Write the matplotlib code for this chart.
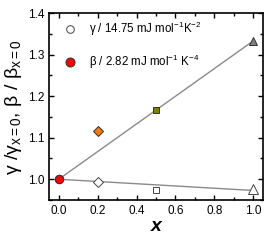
import matplotlib.pyplot as plt
import numpy as np
from matplotlib.ticker import MultipleLocator

plt.rcParams['font.family'] = ['Liberation Sans', 'DejaVu Sans']
plt.rcParams['mathtext.fontset'] = 'custom'
plt.rcParams['mathtext.rm'] = 'Liberation Sans'
plt.rcParams['mathtext.it'] = 'Liberation Sans:italic'
plt.rcParams['mathtext.default'] = 'regular'

x_vals = [0.0, 0.2, 0.5, 1.0]
gamma_vals = [1.0, 0.993, 0.973, 0.977]
beta_vals = [1.0, 1.117, 1.166, 1.333]
markers = ['o', 'D', 's', '^']
gamma_sizes = [6, 5, 4, 6.5]
beta_sizes = [6, 5, 5, 6]
beta_colors = ['#ff0000', '#f07c10', '#7f7f00', '#808080']

# fitted lines
line_x = [0.0, 1.0]
gamma_line = [1.0, 0.973]
beta_line = [1.0, 1.333]

fig = plt.figure(figsize=(2.74, 2.41), dpi=100)
ax = fig.add_axes([0.179, 0.17, 0.781, 0.776])

ax.plot(line_x, gamma_line, color='#8a8a8a', lw=1.0, zorder=1)
ax.plot(line_x, beta_line, color='#8a8a8a', lw=1.0, zorder=1)

for xv, gv, m, s in zip(x_vals, gamma_vals, markers, gamma_sizes):
    ax.plot(xv, gv, marker=m, ms=s, mfc='white', mec='#444444', mew=0.7, ls='none', zorder=2)
for xv, bv, m, c, s in zip(x_vals, beta_vals, markers, beta_colors, beta_sizes):
    ax.plot(xv, bv, marker=m, ms=s, mfc=c, mec='#333333', mew=0.7, ls='none', zorder=3)

# legend entries
ax.plot(0.057, 1.361, marker='o', ms=5.5, mfc='white', mec='#444444', mew=0.7)
ax.plot(0.057, 1.282, marker='o', ms=6.5, mfc='#ff0000', mec='#333333', mew=0.7)
ax.text(0.155, 1.361, 'γ / 14.75 mJ mol$^{-1}$K$^{-2}$', fontsize=8.3, va='center')
ax.text(0.155, 1.282, 'β / 2.82 mJ mol$^{-1}$ K$^{-4}$', fontsize=8.3, va='center')

ax.set_xlim(-0.05, 1.05)
ax.set_ylim(0.95, 1.4)
ax.xaxis.set_major_locator(MultipleLocator(0.2))
ax.xaxis.set_minor_locator(MultipleLocator(0.1))
ax.yaxis.set_major_locator(MultipleLocator(0.1))
ax.yaxis.set_minor_locator(MultipleLocator(0.05))
ax.tick_params(which='both', direction='in', top=True, right=True, labelsize=8.5, width=1.0)
ax.tick_params(which='major', length=3.5)
ax.tick_params(which='minor', length=2)
ax.xaxis.set_major_formatter(plt.FuncFormatter(lambda v, p: f'{v:.1f}'))
ax.yaxis.set_major_formatter(plt.FuncFormatter(lambda v, p: f'{v:.1f}'))
for s in ax.spines.values():
    s.set_linewidth(1.2)

ax.set_xlabel('x', fontsize=14, style='italic', fontweight='bold', labelpad=1)
ax.set_ylabel('γ /γ$_{x=0}$, β / β$_{x=0}$', fontsize=14, labelpad=3)

plt.savefig('out.png', dpi=100)
plt.close()
